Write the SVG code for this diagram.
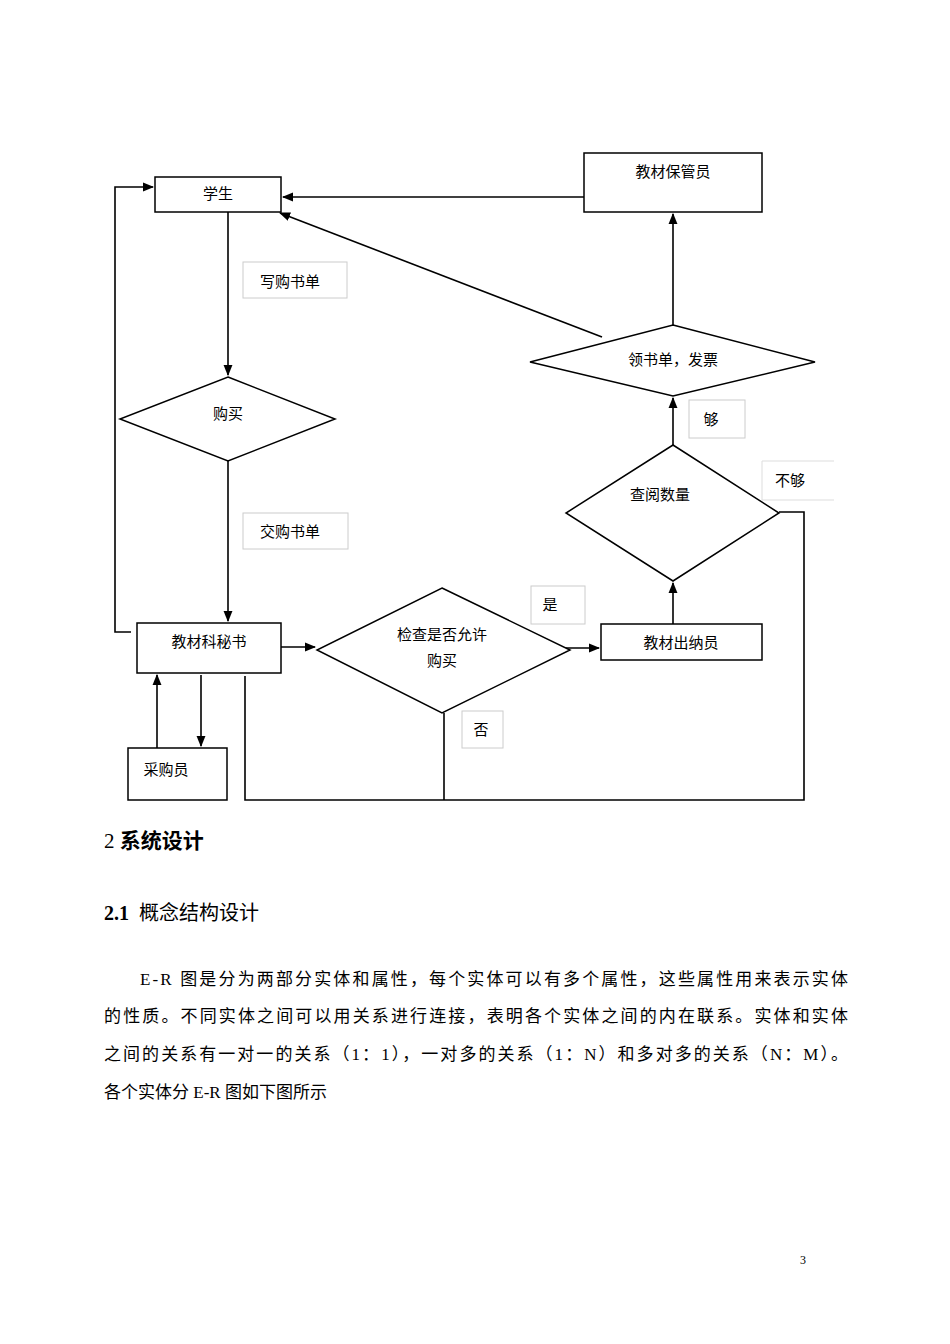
<svg xmlns="http://www.w3.org/2000/svg" width="950" height="1344" viewBox="0 0 950 1344">
<style>
.n{fill:#fff;stroke:#000;stroke-width:1.5}
.lb{fill:#fff;stroke:#ccc;stroke-width:1}
.t{font-family:"Liberation Serif","Noto Sans CJK SC",serif;font-size:15px;fill:#000}
.c{fill:none;stroke:#000;stroke-width:1.6}
.p{font-family:"Liberation Serif","Noto Sans CJK SC",serif;font-size:17px;fill:#000}
</style>
<defs><marker id="a" viewBox="0 0 10 10" refX="9" refY="5" markerWidth="7" markerHeight="7" orient="auto"><path d="M0,1L10,5L0,9z" fill="#000"/></marker></defs>
<rect width="950" height="1344" fill="#fff"/>
<g id="connectors">
<path class="c" d="M584,197H283" marker-end="url(#a)"/>
<path class="c" d="M602,337L280,213" marker-end="url(#a)"/>
<path class="c" d="M673,325V214" marker-end="url(#a)"/>
<path class="c" d="M673,445V398" marker-end="url(#a)"/>
<path class="c" d="M673,624V583" marker-end="url(#a)"/>
<path class="c" d="M550,648H599" marker-end="url(#a)"/>
<path class="c" d="M281,647H315" marker-end="url(#a)"/>
<path class="c" d="M228,212V375" marker-end="url(#a)"/>
<path class="c" d="M228,461V621" marker-end="url(#a)"/>
<path class="c" d="M131,632H115V187H153" marker-end="url(#a)"/>
<path class="c" d="M157,748V675" marker-end="url(#a)"/>
<path class="c" d="M201,675V746" marker-end="url(#a)"/>
<path class="c" d="M245,676V800H804V512H779"/>
<path class="c" d="M444,713V800"/>
</g>
<g id="n1"><rect class="n" x="155" y="177" width="126" height="35"/><text class="t" x="218" y="199" text-anchor="middle">学生</text></g>
<g id="n2"><rect class="n" x="584" y="153" width="178" height="59"/><text class="t" x="673" y="177" text-anchor="middle">教材保管员</text></g>
<g id="l1"><rect class="lb" x="243" y="262" width="104" height="36"/><text class="t" x="290" y="287" text-anchor="middle">写购书单</text></g>
<g id="n3"><polygon class="n" points="228,377 335,419 228,461 120,419"/><text class="t" x="228" y="419" text-anchor="middle">购买</text></g>
<g id="l2"><rect class="lb" x="243" y="513" width="105" height="36"/><text class="t" x="290" y="537" text-anchor="middle">交购书单</text></g>
<g id="n4"><rect class="n" x="137" y="623" width="144" height="50"/><text class="t" x="209" y="647" text-anchor="middle">教材科秘书</text></g>
<g id="n5"><polygon class="n" points="442,588 570,650 442,713 317,650"/><text class="t" x="442" y="640" text-anchor="middle">检查是否允许</text><text class="t" x="442" y="666" text-anchor="middle">购买</text></g>
<g id="l3"><rect class="lb" x="531" y="586" width="54" height="38"/><text class="t" x="550" y="610" text-anchor="middle">是</text></g>
<g id="n6"><rect class="n" x="601" y="624" width="161" height="36"/><text class="t" x="681" y="648" text-anchor="middle">教材出纳员</text></g>
<g id="l4"><rect class="lb" x="462" y="711" width="41" height="37"/><text class="t" x="481" y="735" text-anchor="middle">否</text></g>
<g id="n7"><rect class="n" x="128" y="748" width="99" height="52"/><text class="t" x="166" y="775" text-anchor="middle">采购员</text></g>
<g id="n8"><polygon class="n" points="673,445 779,513 673,581 566,513"/><text class="t" x="660" y="500" text-anchor="middle">查阅数量</text></g>
<g id="l5"><rect class="lb" x="689" y="400" width="56" height="38"/><text class="t" x="711" y="425" text-anchor="middle">够</text></g>
<g id="l6"><path d="M834,461H762V500H834" fill="#fff" stroke="#ddd"/><text class="t" x="790" y="486" text-anchor="middle">不够</text></g>
<g id="n9"><polygon class="n" points="673,325 815,362 673,396 530,362"/><text class="t" x="673" y="365" text-anchor="middle">领书单，发票</text></g>
<text class="p" x="104" y="848" style="font-size:21px">2 <tspan font-weight="bold">系统设计</tspan></text>
<text class="p" x="104" y="920" style="font-size:20px" xml:space="preserve"><tspan font-weight="bold">2.1</tspan>  概念结构设计</text>
<text class="p" x="140" y="985" textLength="708" lengthAdjust="spacing">E-R 图是分为两部分实体和属性，每个实体可以有多个属性，这些属性用来表示实体</text>
<text class="p" x="104" y="1022" textLength="744" lengthAdjust="spacing">的性质。不同实体之间可以用关系进行连接，表明各个实体之间的内在联系。实体和实体</text>
<text class="p" x="104" y="1060" textLength="744" lengthAdjust="spacing">之间的关系有一对一的关系（1：1），一对多的关系（1：N）和多对多的关系（N：M）。</text>
<text class="p" x="104" y="1098">各个实体分 E-R 图如下图所示</text>
<text class="p" x="800" y="1264" style="font-size:12px">3</text>
</svg>
